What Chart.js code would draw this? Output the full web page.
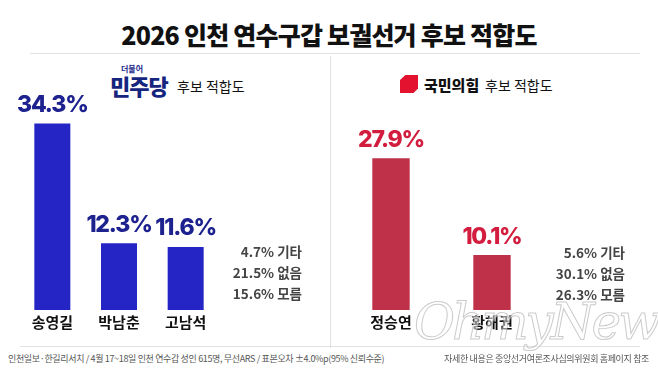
<!DOCTYPE html>
<html>
<head>
<meta charset="utf-8">
<script src="https://cdn.jsdelivr.net/npm/chart.js@4"></script>
<style>
  body { margin: 0; background: #fff; font-family: "Noto Sans CJK KR", sans-serif; }
  #wrap { position: relative; width: 658px; height: 370px; overflow: hidden; background: #fff; }
  .abs { position: absolute; white-space: nowrap; }
  #title { left: 0; width: 658px; top: 16px; text-align: center; font-size: 25px; font-weight: 900; color: #111; letter-spacing: -0.8px; }
  .hline { position: absolute; height: 1px; background: #e2e2e2; }
  .vline { position: absolute; width: 1px; background: #e2e2e2; }
  canvas { position: absolute; }
  .side { font-size: 13.5px; font-weight: 700; color: #444; text-align: right; line-height: 21px; }
  .foot { font-size: 9px; color: #555; top: 352px; letter-spacing: -0.35px; }
</style>
</head>
<body>
<div id="wrap">
  <div id="title" class="abs">2026 인천 연수구갑 보궐선거 후보 적합도</div>
  <div class="hline" style="left:30px;width:610px;top:53px"></div>
  <div class="vline" style="left:330px;top:56px;height:292px"></div>
  <div class="hline" style="left:20px;width:620px;top:346px"></div>

  <!-- 민주당 header -->
  <div class="abs" style="left:121px;top:63px;font-size:8px;font-weight:700;color:#1c2a8c">더불어</div>
  <div class="abs" style="left:110px;top:69px;font-size:22px;font-weight:900;color:#16257e;letter-spacing:-1px">민주당</div>
  <div class="abs" style="left:177px;top:76px;font-size:14px;color:#111">후보 적합도</div>

  <!-- 국민의힘 header -->
  <div class="abs" style="left:400px;top:75px;width:18px;height:18px;background:#e3132f;clip-path:polygon(30% 0,100% 0,100% 75%,75% 100%,0 100%,0 28%)"></div>
  <div class="abs" style="left:424px;top:74px;font-size:15px;font-weight:900;color:#111">국민의힘</div>
  <div class="abs" style="left:485px;top:75px;font-size:14px;color:#111">후보 적합도</div>

  <canvas id="demChart" width="330" height="280" style="left:0;top:60px"></canvas>
  <canvas id="pppChart" width="328" height="280" style="left:330px;top:60px"></canvas>

  <div id="demSide" class="abs side" style="right:356px;top:241px"></div>
  <div id="pppSide" class="abs side" style="right:33px;top:242px"></div>

  <div class="abs" style="left:414px;top:293px;font-size:50px;font-style:italic;font-family:'DejaVu Serif',serif;color:rgba(255,255,255,0.5);-webkit-text-stroke:1px rgba(160,160,160,0.55);letter-spacing:-3px">OhmyNews</div>

  <div class="abs foot" style="left:8px">인천일보·한길리서치 / 4월 17~18일 인천 연수갑 성인 615명, 무선ARS / 표본오차 ±4.0%p(95% 신뢰수준)</div>
  <div class="abs foot" style="right:9px">자세한 내용은 중앙선거여론조사심의위원회 홈페이지 참조</div>
</div>

<script>
// 더불어민주당 후보
const demNames = ['송영길', '박남춘', '고남석'];
const demValues = [34.3, 12.3, 11.6];
const demOthers = ['4.7% 기타', '21.5% 없음', '15.6% 모름'];

// 국민의힘 후보
const pppNames = ['정승연', '황해권'];
const pppValues = [27.9, 10.1];
const pppOthers = ['5.6%  기타', '30.1% 없음', '26.3% 모름'];

const yMax = 46;

document.getElementById('demSide').innerHTML = demOthers.join('<br>');
document.getElementById('pppSide').innerHTML = pppOthers.join('<br>');

// etiquetas de valor y nombres
const labelPlugin = {
    id: 'labels',
    afterDatasetsDraw(chart, args, opts) {
        const ctx = chart.ctx;
        const meta = chart.getDatasetMeta(0);
        const ds = chart.data.datasets[0];
        ctx.save();
        ctx.textAlign = 'center';
        meta.data.forEach((bar, i) => {
            ctx.fillStyle = opts.valueColor;
            ctx.font = '800 23px Inter, "Noto Sans CJK KR", sans-serif';
            ctx.letterSpacing = '-1.2px';
            ctx.textBaseline = 'bottom';
            ctx.fillText(ds.data[i].toFixed(1) + '%', bar.x, bar.y - 7);
            ctx.letterSpacing = '0px';
            ctx.fillStyle = '#111';
            ctx.font = '700 15px "Noto Sans CJK KR", sans-serif';
            ctx.textBaseline = 'top';
            ctx.fillText(chart.data.labels[i], bar.x, chart.chartArea.bottom + 5);
        });
        ctx.restore();
    }
};

function makeChart(id, labels, values, barColor, valueColor, pad, barPct) {
    return new Chart(document.getElementById(id), {
        type: 'bar',
        data: {
            labels: labels,
            datasets: [{
                data: values,
                backgroundColor: barColor,
                borderWidth: 0,
                categoryPercentage: 1,
                barPercentage: barPct
            }]
        },
        options: {
            responsive: false,
            animation: false,
            layout: { padding: pad },
            scales: {
                x: { display: false },
                y: { display: false, min: 0, max: yMax }
            },
            plugins: {
                legend: { display: false },
                tooltip: { enabled: false },
                labels: { valueColor: valueColor }
            }
        },
        plugins: [labelPlugin]
    });
}

makeChart('demChart', demNames, demValues, '#2525c6', '#1d228f',
    { left: 19, right: 111, top: 0, bottom: 30 }, 0.54);
makeChart('pppChart', pppNames, pppValues, '#bf3149', '#d21d3f',
    { left: 10.5, right: 115.5, top: 0, bottom: 30 }, 0.37);
</script>
</body>
</html>
